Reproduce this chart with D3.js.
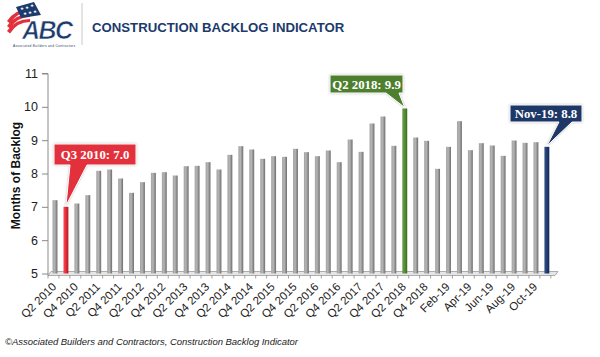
<!DOCTYPE html>
<html><head><meta charset="utf-8">
<script src="https://cdn.jsdelivr.net/npm/d3@7"></script>
<style>body{margin:0;background:#fff}svg{display:block}</style>
</head><body>
<svg id="c" width="600" height="357"></svg>
<script>
const categories = ["Q2 2010","Q3 2010","Q4 2010",
 "Q1 2011","Q2 2011","Q3 2011","Q4 2011",
 "Q1 2012","Q2 2012","Q3 2012","Q4 2012",
 "Q1 2013","Q2 2013","Q3 2013","Q4 2013",
 "Q1 2014","Q2 2014","Q3 2014","Q4 2014",
 "Q1 2015","Q2 2015","Q3 2015","Q4 2015",
 "Q1 2016","Q2 2016","Q3 2016","Q4 2016",
 "Q1 2017","Q2 2017","Q3 2017","Q4 2017",
 "Q1 2018","Q2 2018","Q3 2018","Q4 2018",
 "Jan-19","Feb-19","Mar-19","Apr-19","May-19","Jun-19","Jul-19","Aug-19","Sep-19","Oct-19","Nov-19"];
const backlog = [7.2,7.0,7.1,7.35,8.08,8.12,7.85,7.42,7.74,8.02,8.04,7.94,8.22,8.23,8.34,8.12,
 8.56,8.82,8.72,8.44,8.52,8.5,8.74,8.64,8.52,8.69,8.34,9.02,8.65,9.5,9.71,8.83,9.95,9.08,8.98,
 8.14,8.8,9.57,8.7,8.91,8.84,8.53,8.99,8.92,8.94,8.8];
const tickLabels = categories.filter((d,i)=>i%2===0);
const yTicks = [5,6,7,8,9,10,11];
const highlights = [
  {cat:"Q3 2010", text:"Q3 2010: 7.0", color:"#e2313c"},
  {cat:"Q2 2018", text:"Q2 2018: 9.9", color:"#4e7f2f"},
  {cat:"Nov-19", text:"Nov-19: 8.8", color:"#1d3767"}
];

const svg = d3.select("#c");
const defs = svg.append("defs");
function grad(id, c1, c2, c3){
  const g = defs.append("linearGradient").attr("id",id).attr("x1","0").attr("x2","1").attr("y1","0").attr("y2","0");
  g.append("stop").attr("offset","0%").attr("stop-color",c1);
  g.append("stop").attr("offset","45%").attr("stop-color",c2);
  g.append("stop").attr("offset","100%").attr("stop-color",c3);
}
grad("gGray","#a4a4a4","#b4b4b4","#6c6c6c");
grad("gRed","#f0505a","#e8303a","#b81420");
grad("gGreen","#6a9c48","#579036","#3c6a20");
grad("gNavy","#34508a","#223e74","#142a55");

const x = d3.scaleBand().domain(categories).range([47.07,554.8]).paddingInner(0.55).paddingOuter(0.5);
const y = d3.scaleLinear().domain([5,11]).range([273.5,73.5]);

// floor
const x0 = 48, x1 = 555;
svg.append("path").attr("d",`M${x0},${y(5)+2}L${x0+3},${y(5)-2}L${x1+3},${y(5)-2}L${x1},${y(5)+2}Z`)
  .attr("fill","#e6e6e6").attr("stroke","#9a9a9a").attr("stroke-width",0.8);
// x ticks
svg.append("g").selectAll("line").data(d3.range(categories.length+1)).join("line")
  .attr("x1",i=> x0 + i*x.step()).attr("x2",i=> x0 + i*x.step())
  .attr("y1",y(5)+2).attr("y2",y(5)+5).attr("stroke","#8a8a8a").attr("stroke-width",0.8);

// y axis
const yAxis = d3.axisLeft(y).tickValues(yTicks).tickSize(6).tickPadding(4).tickFormat(d3.format("d"));
const ya = svg.append("g").attr("transform",`translate(${x0},0)`).call(yAxis);
ya.select(".domain").attr("stroke","#8a8a8a").attr("d",`M-6,${y(11)}H0V${y(5)+2}`);
ya.selectAll(".tick line").attr("stroke","#8a8a8a");
ya.selectAll("text").attr("font-family","Liberation Sans, Arial, sans-serif").attr("font-size",12.5).attr("fill","#222");

svg.append("text").attr("transform",`translate(20,${(y(5)+y(11))/2 + 2}) rotate(-90)`)
  .attr("text-anchor","middle").attr("font-family","Liberation Sans, Arial, sans-serif")
  .attr("font-weight","bold").attr("font-size",12).attr("fill","#111").text("Months of Backlog");

// bars
const fillFor = c => c==="Q3 2010" ? "url(#gRed)" : c==="Q2 2018" ? "url(#gGreen)" : c==="Nov-19" ? "url(#gNavy)" : "url(#gGray)";
svg.append("g").selectAll("rect").data(categories).join("rect")
  .attr("x",c=>x(c)).attr("width",x.bandwidth())
  .attr("y",(c,i)=>y(backlog[i])).attr("height",(c,i)=>y(5)-y(backlog[i]))
  .attr("fill",fillFor);

// x labels
svg.append("g").selectAll("text").data(tickLabels).join("text")
  .attr("transform",c=>`translate(${x(c)+x.bandwidth()/2+2},${y(5)+14}) rotate(-45)`)
  .attr("text-anchor","end").attr("font-family","Liberation Sans, Arial, sans-serif")
  .attr("font-size",11.5).attr("fill","#222").text(c=>c);

// callouts
const callouts = [
  {h:highlights[0], box:[54,144,136,165], base:[70,87]},
  {h:highlights[1], box:[330,75,403,93], base:[386,399]},
  {h:highlights[2], box:[510,105,582,122], base:[559,572]}
];
callouts.forEach(co=>{
  const i = categories.indexOf(co.h.cat);
  const tx = x(co.h.cat)+x.bandwidth()/2, ty = y(backlog[i]) - 1;
  const [bx0,by0,bx1,by1] = co.box;
  svg.append("path").attr("d",`M${bx0},${by0}H${bx1}V${by1}H${co.base[1]}L${tx},${ty}L${co.base[0]},${by1}H${bx0}Z`)
    .attr("fill",co.h.color).attr("stroke","#ffffff").attr("stroke-width",1)
    .style("filter","drop-shadow(0px 0px 1px rgba(0,0,0,0.25))");
  svg.append("text").attr("x",(bx0+bx1)/2).attr("y",(by0+by1)/2+4.5).attr("text-anchor","middle")
    .attr("font-family","Liberation Serif, Times New Roman, serif").attr("font-weight","bold")
    .attr("font-size",12.8).attr("fill","#fff").text(co.h.text);
});

// header
svg.append("line").attr("x1",82).attr("x2",82).attr("y1",3).attr("y2",45).attr("stroke","#c8c8c8").attr("stroke-width",1);
svg.append("text").attr("x",92).attr("y",32).attr("font-family","Liberation Sans, Arial, sans-serif")
  .attr("font-weight","bold").attr("font-size",13.2).attr("fill","#1c3a6c").text("CONSTRUCTION BACKLOG INDICATOR");

// logo
const logo = svg.append("g");
[0,5,10].forEach(o=>{
  logo.append("path").attr("d",`M${7},${21+o} Q${15},${9+o} ${30},${9+o} L${30},${12+o} Q${17},${12+o} ${10},${23.5+o}Z`).attr("fill","#e2313c");
});
logo.append("path").attr("d","M16,7 L34,2 L41,15 L21,18 Z").attr("fill","#1c3a6c");
[[22,8],[27,6.5],[32,5],[25,13],[30,12],[35,10.5]].forEach(([sx,sy])=>{
  logo.append("text").attr("x",sx).attr("y",sy+2).attr("text-anchor","middle").attr("font-size",4.5)
    .attr("fill","#fff").attr("font-family","DejaVu Sans").text("★");
});
logo.append("text").attr("x",22).attr("y",38.5).attr("font-family","Liberation Sans, Arial, sans-serif")
  .attr("font-weight","bold").attr("font-style","italic").attr("font-size",25).attr("letter-spacing",-1.5)
  .attr("fill","#1c3a6c").attr("stroke","#fff").attr("stroke-width",0.6).text("ABC");
logo.append("text").attr("x",13).attr("y",47).attr("font-family","Liberation Sans, Arial, sans-serif")
  .attr("font-size",3.2).attr("fill","#1c3a6c").attr("textLength",62).text("Associated Builders and Contractors");

// footer
svg.append("text").attr("x",5).attr("y",345).attr("font-family","Liberation Sans, Arial, sans-serif")
  .attr("font-style","italic").attr("font-size",9.5).attr("fill","#222").attr("textLength",293)
  .text("©Associated Builders and Contractors, Construction Backlog Indicator");
</script>
</body></html>
